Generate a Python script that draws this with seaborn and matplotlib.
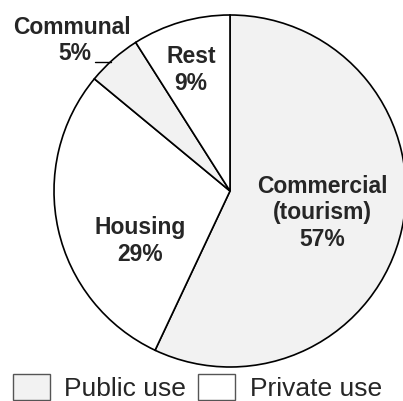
import matplotlib
matplotlib.use("Agg")
import matplotlib.pyplot as plt
from matplotlib.patches import Patch
import seaborn as sns

labels = ["Commercial\n(tourism)", "Housing", "Communal", "Rest"]
shares = [57, 29, 5, 9]
use_type = ["Public use", "Private use", "Public use", "Private use"]
legend_names = ["Public use", "Private use"]

sns.set_style("white")
plt.rcParams['font.family'] = ['Liberation Sans', 'DejaVu Sans']

palette = {"Public use": "#f2f2f2", "Private use": "#ffffff"}
colors = [palette[u] for u in use_type]

fig = plt.figure(figsize=(4.03, 4.01), dpi=100)
ax = fig.add_axes([0, 0, 1, 1])

# pie centre sits at pixel (230, 191), radius 176 px
wedges, _ = ax.pie(shares, colors=colors, startangle=90, counterclock=False,
                   radius=1.0, center=(0, 0),
                   wedgeprops=dict(edgecolor="black", linewidth=1.2))
ax.set_xlim(-230 / 176, 173 / 176)
ax.set_ylim(-210 / 176, 191 / 176)
ax.set_aspect("equal")
ax.axis("off")

def px(x, y):
    return (x - 230) / 176, (191 - y) / 176

fs = 16.5
lab_pos = [px(322, 213), px(140, 241), None, px(191, 70)]
for lab, val, pos in zip(labels, shares, lab_pos):
    if pos is None:
        continue
    ax.text(pos[0], pos[1], f"{lab}\n{val}%", ha="center", va="center",
            fontsize=fs, fontweight="bold", linespacing=1.2)

# communal label outside with leader line
ax.text(*px(72, 27), labels[2], ha="center", va="center", fontsize=fs, fontweight="bold")
ax.text(*px(91, 53), f"{shares[2]}%", ha="right", va="center", fontsize=fs, fontweight="bold")
x0, y0 = px(95, 62)
x1, y1 = px(111, 62)
ax.plot([x0, x1], [y0, y1], color="black", linewidth=1)

handles = [Patch(facecolor=palette[n], edgecolor="#555555", linewidth=1.0, label=n)
           for n in legend_names]
fig.legend(handles=handles, loc="lower left", bbox_to_anchor=(0.032, 0.0), ncol=2,
           frameon=False, fontsize=19, handlelength=1.4, handleheight=1.1,
           handletextpad=0.55, columnspacing=0.45, borderpad=0, borderaxespad=0)

fig.savefig("out.png", dpi=100)
